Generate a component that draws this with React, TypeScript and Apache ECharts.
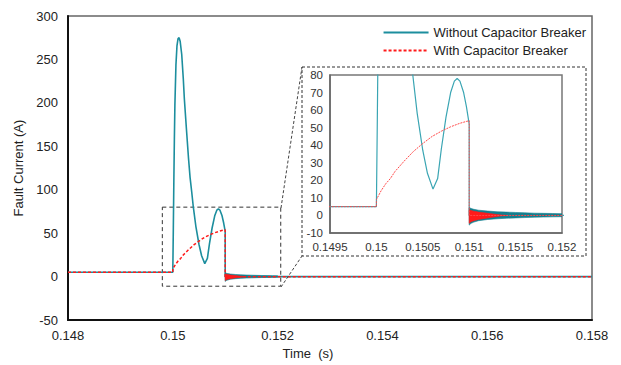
import React, { useEffect, useRef } from 'react';
import * as echarts from 'echarts';

// Without capacitor breaker (teal)
const withoutT = [0.148, 0.15, 0.15001, 0.15002, 0.15003, 0.15004, 0.15006, 0.15008, 0.1501, 0.15012, 0.15014, 0.15017, 0.1502, 0.15022, 0.15026, 0.1503, 0.15033, 0.15036, 0.15039, 0.15044, 0.1505, 0.15055, 0.15061, 0.15066, 0.1507, 0.15075, 0.1508, 0.15084, 0.15087, 0.1509, 0.15094, 0.15097, 0.151, 0.151, 0.158];
const withoutV = [5, 5, 55, 110, 158, 198, 244, 266, 274, 275, 271, 256, 228, 205, 170, 136, 114, 98, 81, 58, 37, 24, 15, 21, 38, 56, 70, 76.5, 78, 76.5, 70, 62, 52, 0, 0];

// With capacitor breaker (red)
const withT = [0.148, 0.15, 0.15, 0.15005, 0.1501, 0.15015, 0.1502, 0.1503, 0.1504, 0.1505, 0.1506, 0.1507, 0.1508, 0.1509, 0.151, 0.151, 0.158];
const withV = [5, 5, 9, 14, 18, 21, 25, 31, 36.5, 41, 45, 48, 50.5, 52.5, 54, 0, 0];

// High-frequency oscillation envelopes after breaker operation
const bandWithoutT = [0.151, 0.15102, 0.15105, 0.1511, 0.1512, 0.1513, 0.1514, 0.1515, 0.1516, 0.1517, 0.1518, 0.1519, 0.152];
const bandWithoutUp = [4.5, 4, 3.5, 3, 2.5, 2.1, 1.9, 1.7, 1.5, 1.3, 1.2, 1.1, 1.0];
const bandWithoutLow = [-5.5, -4.5, -3.8, -3, -2.3, -1.9, -1.6, -1.4, -1.2, -1.0, -0.9, -0.8, -0.7];

const bandWithT = [0.151, 0.15102, 0.15105, 0.1511, 0.1512, 0.1513, 0.15135, 0.1514];
const bandWithUp = [3.2, 2.8, 2.4, 1.9, 1.2, 0.5, 0.2, 0];
const bandWithLow = [-4.5, -3.6, -3, -2.3, -1.4, -0.6, -0.2, 0];

// Zoom region marked on the main chart
const zoomBoxX = [0.1498, 0.15206];
const zoomBoxY = [80, -11];

const mainX = { min: 0.148, max: 0.158, interval: 0.002 };
const mainY = { min: -50, max: 300, interval: 50 };
const insetX = { min: 0.1495, max: 0.152, interval: 0.0005 };
const insetY = { min: -10, max: 80, interval: 10 };

const names = ['Without Capacitor Breaker', 'With Capacitor Breaker'];

const TEAL = '#1c8e9e';
const RED = '#ff1a1a';
const FONT = 'Liberation Sans, Arial, sans-serif';

function zip(ts: number[], vs: number[]) {
  return ts.map((t, i) => [t, vs[i]]);
}

function band(idx: number, ts: number[], up: number[], low: number[], color: string, z: number) {
  return {
    type: 'custom',
    xAxisIndex: idx,
    yAxisIndex: idx,
    z,
    silent: true,
    clip: true,
    data: ts.map((t, i) => [t, up[i], low[i]]),
    encode: { x: 0, y: [1, 2] },
    renderItem: (params: any, api: any) => {
      if (params.dataIndex !== 0) return null;
      const pts: number[][] = [];
      for (let i = 0; i < ts.length; i++) pts.push(api.coord([ts[i], up[i]]));
      for (let i = ts.length - 1; i >= 0; i--) pts.push(api.coord([ts[i], low[i]]));
      return {
        type: 'polygon',
        shape: { points: pts },
        style: { fill: color, stroke: color, lineWidth: 0.6 },
      };
    },
  };
}

export default function App() {
  const ref = useRef<HTMLDivElement>(null);
  useEffect(() => {
    if (!ref.current) return;
    const chart = echarts.init(ref.current, null, { renderer: 'svg' });
    const dash = [3, 2];
    chart.setOption({
      animation: false,
      backgroundColor: '#fff',
      textStyle: { fontFamily: FONT },
      legend: {
        data: names,
        orient: 'vertical',
        right: 35,
        top: 26,
        padding: 0,
        itemWidth: 45,
        itemHeight: 14,
        itemGap: 5,
        itemStyle: { opacity: 0 },
        textStyle: { fontSize: 13, color: '#222', fontFamily: FONT },
      },
      grid: [
        { left: 68, top: 16, width: 524, height: 305, show: true, borderColor: '#666', borderWidth: 1.5, backgroundColor: 'transparent' },
        { left: 330, top: 75, width: 232, height: 158, show: true, borderColor: '#777', borderWidth: 1.5, backgroundColor: '#fff', z: 5 },
      ],
      xAxis: [
        {
          type: 'value', gridIndex: 0, ...mainX,
          name: 'Time  (s)', nameLocation: 'middle', nameGap: 26,
          nameTextStyle: { fontSize: 13, color: '#222', padding: [0, 44, 0, 0], fontFamily: FONT },
          axisLine: { onZero: false, lineStyle: { color: '#111', width: 2 } },
          axisTick: { show: false },
          splitLine: { show: false },
          axisLabel: { fontSize: 13, color: '#222', margin: 9, fontFamily: FONT, formatter: (v: number) => String(+v.toFixed(3)) },
        },
        {
          type: 'value', gridIndex: 1, ...insetX, z: 6,
          axisLine: { onZero: false, lineStyle: { color: '#666', width: 1.5 } },
          axisTick: { show: false },
          splitLine: { show: false },
          axisLabel: { fontSize: 11.5, color: '#333', margin: 8, fontFamily: FONT, formatter: (v: number) => String(+v.toFixed(4)) },
        },
      ],
      yAxis: [
        {
          type: 'value', gridIndex: 0, ...mainY,
          name: 'Fault Current (A)', nameLocation: 'middle', nameGap: 40,
          nameTextStyle: { fontSize: 13, color: '#222', fontFamily: FONT },
          axisLine: { show: true, onZero: false, lineStyle: { color: '#111', width: 2 } },
          axisTick: { show: false },
          splitLine: { show: false },
          axisLabel: { fontSize: 13, color: '#222', margin: 10, fontFamily: FONT },
        },
        {
          type: 'value', gridIndex: 1, ...insetY, z: 6,
          axisLine: { show: true, onZero: false, lineStyle: { color: '#666', width: 1.5 } },
          axisTick: { show: false },
          splitLine: { show: false },
          axisLabel: { fontSize: 11.5, color: '#333', margin: 7, fontFamily: FONT },
        },
      ],
      graphic: [
        { type: 'rect', shape: { x: 302, y: 67, width: 284, height: 189 }, style: { fill: 'none', stroke: '#333', lineWidth: 1, lineDash: [3, 2] }, z: 4 },
        { type: 'line', shape: { x1: 281, y1: 208, x2: 302, y2: 67 }, style: { stroke: '#444', lineWidth: 1, lineDash: [3, 2] }, z: 4 },
        { type: 'line', shape: { x1: 281, y1: 287, x2: 302, y2: 256 }, style: { stroke: '#444', lineWidth: 1, lineDash: [3, 2] }, z: 4 },
      ],
      series: [
        {
          type: 'line', name: names[0], xAxisIndex: 0, yAxisIndex: 0, data: zip(withoutT, withoutV),
          symbol: 'none', lineStyle: { color: TEAL, width: 1.6 }, itemStyle: { color: TEAL }, z: 2,
          markArea: {
            silent: true,
            itemStyle: { color: 'rgba(0,0,0,0)', borderColor: '#333', borderWidth: 1, borderType: [4, 3] },
            data: [[{ xAxis: zoomBoxX[0], yAxis: zoomBoxY[0] }, { xAxis: zoomBoxX[1], yAxis: zoomBoxY[1] }]],
          },
        },
        {
          type: 'line', name: names[1], xAxisIndex: 0, yAxisIndex: 0, data: zip(withT, withV),
          symbol: 'none', lineStyle: { color: RED, width: 1.5, type: dash }, itemStyle: { color: RED }, z: 3,
        },
        band(0, bandWithoutT, bandWithoutUp, bandWithoutLow, '#127f8f', 3),
        band(0, bandWithT, bandWithUp, bandWithLow, RED, 3),
        {
          type: 'line', name: names[0], xAxisIndex: 1, yAxisIndex: 1, data: zip(withoutT, withoutV),
          symbol: 'none', lineStyle: { color: '#3aa5b3', width: 1.2 }, itemStyle: { color: TEAL }, z: 7,
        },
        {
          type: 'line', name: names[1], xAxisIndex: 1, yAxisIndex: 1, data: zip(withT, withV),
          symbol: 'none', lineStyle: { color: '#ff4a4a', width: 1, type: [2, 1] }, itemStyle: { color: RED }, z: 8,
        },
        band(1, bandWithoutT, bandWithoutUp, bandWithoutLow, '#127f8f', 8),
        band(1, bandWithT, bandWithUp, bandWithLow, RED, 8),
      ],
    });
    return () => chart.dispose();
  }, []);
  return <div ref={ref} style={{ width: 621, height: 365, position: 'absolute', left: 0, top: 0 }} />;
}
